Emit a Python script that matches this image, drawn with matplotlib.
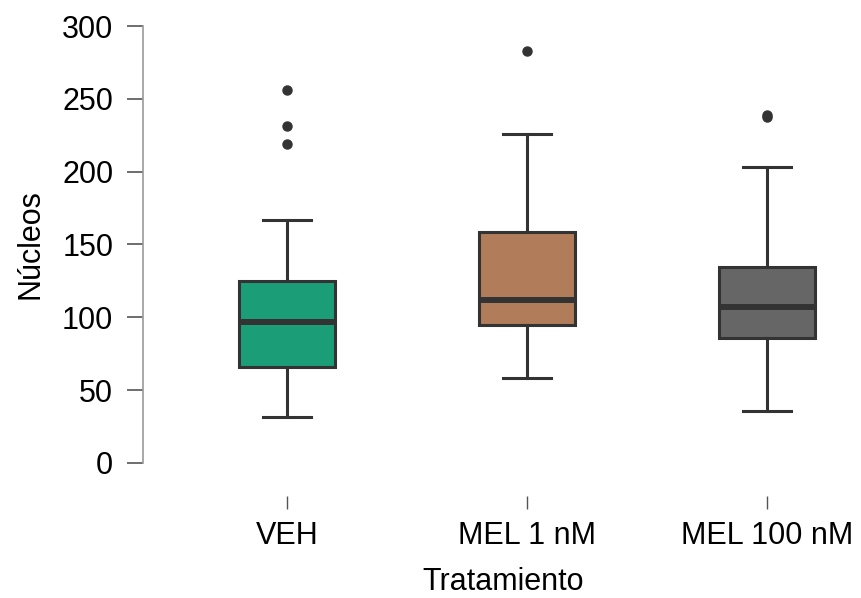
import matplotlib
matplotlib.use("Agg")
import matplotlib.pyplot as plt

plt.rcParams['font.family'] = ['Liberation Sans', 'DejaVu Sans']

# Group summaries
groups = ["VEH", "MEL 1 nM", "MEL 100 nM"]
whislo = [31.8, 58.1, 35.7]
q1 = [66.1, 94.7, 86.0]
med = [96.6, 111.9, 106.9]
q3 = [124.9, 158.8, 134.3]
whishi = [166.8, 225.9, 203.0]
fliers = [[256.1, 231.3, 219.0], [283.0], [237.6, 238.8]]
colors = ["#1b9e77", "#b07c5a", "#666666"]
yticks = [0, 50, 100, 150, 200, 250, 300]

W, H = 862, 598
fig = plt.figure(figsize=(W / 100, H / 100), dpi=100)
ax = fig.add_axes([143 / W, 1 - 463 / H, 720 / W, 437 / H])

stats = []
for i, g in enumerate(groups):
    stats.append(dict(label=g, whislo=whislo[i], q1=q1[i], med=med[i],
                      q3=q3[i], whishi=whishi[i], fliers=fliers[i]))

edge = "#333333"
bp = ax.bxp(stats, positions=range(len(groups)), widths=0.4, capwidths=0.2,
            patch_artist=True,
            boxprops=dict(edgecolor=edge, linewidth=2.2),
            medianprops=dict(color=edge, linewidth=4.3, solid_capstyle='butt'),
            whiskerprops=dict(color=edge, linewidth=2.2),
            capprops=dict(color=edge, linewidth=2.2),
            flierprops=dict(marker='o', markerfacecolor=edge, markeredgecolor=edge,
                            markersize=6.5))
for patch, c in zip(bp['boxes'], colors):
    patch.set_facecolor(c)

ax.set_xlim(-0.6, 2.4)
ax.set_ylim(0, 300)
ax.set_yticks(yticks)
ax.set_xticks(range(len(groups)))
ax.set_xticklabels(groups)

for s in ['top', 'right']:
    ax.spines[s].set_visible(False)
ax.spines['left'].set_color('#999999')
ax.spines['left'].set_linewidth(1.2)
ax.spines['bottom'].set_position(('outward', 24))
ax.spines['bottom'].set_color('none')

ax.tick_params(axis='y', length=11.5, width=1.2, color='#555555', pad=10,
               labelsize=22, labelcolor='black')
ax.tick_params(axis='x', length=9.4, width=1.0, color='#555555', pad=8,
               labelsize=22, labelcolor='black')

ax.set_ylabel("Núcleos", fontsize=22, labelpad=12)
ax.set_xlabel("Tratamiento", fontsize=22, labelpad=12)

fig.savefig("out.png", dpi=100)
